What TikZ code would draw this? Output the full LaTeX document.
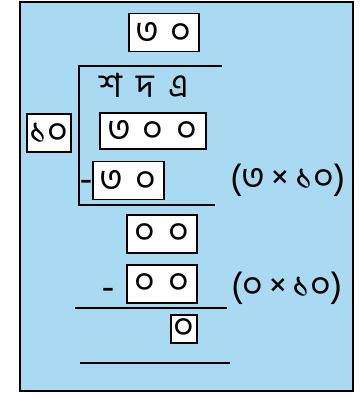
\documentclass[tikz,border=0pt]{standalone}
\usepackage{fontspec}
\newfontfamily\bn[Script=Bengali]{Hind Siliguri}
\usetikzlibrary{positioning}
\definecolor{sheet}{RGB}{170,218,242}
\newcommand{\dg}[1]{\makebox[25.5pt]{#1}}

\begin{document}
\begin{tikzpicture}[
  x=0.75pt, y=-0.75pt,
  font=\bn\fontsize{27}{30}\selectfont,
  digbox/.style={draw, line width=1.3pt, fill=white, inner xsep=1pt, inner ysep=0pt, minimum height=28.5pt},
  rule/.style={line width=2pt},
  note/.style={inner sep=1pt},
  minus/.style={inner sep=0pt, font=\bn\fontsize{30}{30}\selectfont}
]
\useasboundingbox (0,0) rectangle (361,397);
\draw[line width=1.4pt, fill=sheet] (20,2) rectangle (353,391);

\node[digbox] (quot) at (164,32.5) {\dg{৩}\dg{০}};
\node[note, font=\bn\fontsize{25}{28}\selectfont] (cols) at (145,85) {\dg{শ}\dg{দ}\dg{এ}};
\node[digbox, inner xsep=1.5pt, minimum height=27pt] (divd) at (153,131) {\dg{৩}\dg{০}\dg{০}\hspace{10.5pt}};
\node[digbox, inner xsep=1pt, minimum width=33pt] (dvsr) at (49,133) {১০};
\node[digbox] (prod1) at (128.5,180.5) {\dg{৩}\dg{০}};
\node[minus] (min1) at (86,186) {-};
\node[note] (why1) at (288,180) {(৩\,×\,১০)};

\node[digbox] (rest1) at (162,234) {\dg{০}\dg{০}};
\node[digbox] (prod2) at (162,284) {\dg{০}\dg{০}};
\node[minus] (min2) at (108,294) {-};
\node[note] (why2) at (287,288) {(০\,×\,১০)};
\node[digbox, inner xsep=2pt, minimum width=19.5pt, minimum height=21pt] (rest2) at (184,329) {০};

% bracket of the division
\coordinate (top) at (79,66);
\coordinate (topend) at (222,66);
\coordinate (foot) at (79,205);
\coordinate (footend) at (215,205);
\draw[rule] (topend) -- (top) -- (foot) -- (footend);

\coordinate (sub1a) at (75,308);
\coordinate (sub1b) at (227,308);
\draw[rule] (sub1a) -- (sub1b);
\coordinate (sub2a) at (80,363);
\coordinate (sub2b) at (230,363);
\draw[rule] (sub2a) -- (sub2b);
\end{tikzpicture}
\end{document}
